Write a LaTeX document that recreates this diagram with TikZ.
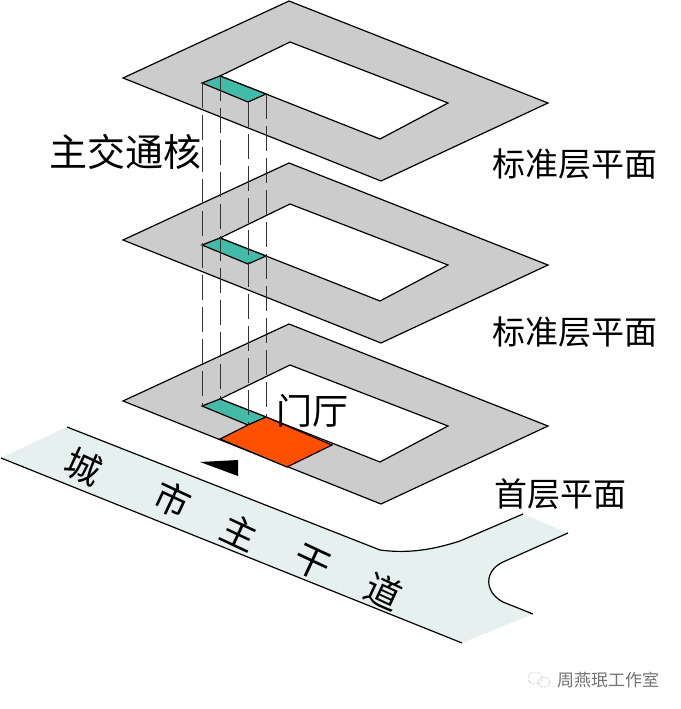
\documentclass[tikz,border=0pt]{standalone}
\usepackage{fontspec}
\usepackage{xcolor}
\usepackage{tikz}
\usetikzlibrary{positioning,calc}
\newfontfamily\cjk{Noto Sans CJK SC}
\definecolor{floorgray}{HTML}{CCCCCC}
\definecolor{coreteal}{HTML}{42BBA8}
\definecolor{lobbyred}{HTML}{FF5000}
\definecolor{roadpale}{HTML}{E6F0EE}

\begin{document}
\begin{tikzpicture}[x=1pt, y=-1pt,
    plate/.style={draw=black, line width=1.2pt, fill=floorgray, line join=miter},
    hole/.style={draw=black, line width=1.2pt, fill=white},
    core/.style={draw=black, line width=1.2pt, fill=coreteal},
    lobby/.style={draw=black, line width=1.2pt, fill=lobbyred},
    shaft/.style={draw=black!80, line width=0.8pt, dash pattern=on 25pt off 7pt},
    kerb/.style={draw=black, line width=1.2pt},
    label/.style={font=\cjk, inner sep=0pt, text=black},
    roadtext/.style={label, font=\cjk\fontsize{36}{36}\selectfont, rotate=-25}]

    \useasboundingbox (0,0) rectangle (680,709);

    % road
    \coordinate (ra) at (67,427);
    \coordinate (rb) at (523,514);
    \coordinate (rc) at (568,533);
    \coordinate (rd) at (533,614);
    \coordinate (re) at (462,643);
    \coordinate (rf) at (1,458);
    \fill[roadpale] (ra) -- (380,550) .. controls (410,554) and (435,549) .. (460,541) -- (rb) -- (rc)
        -- (503,562) .. controls (484,571) and (484,592) .. (503,602) -- (rd) -- (re) -- (rf) -- cycle;
    \draw[kerb] (ra) -- (380,550) .. controls (410,554) and (435,549) .. (460,541) -- (rb);
    \draw[kerb] (rc) -- (503,562) .. controls (484,571) and (484,592) .. (503,602) -- (rd);
    \draw[kerb] (re) -- (rf);

    % floor plates
    \foreach \name/\dy in {top/0, mid/162, low/323} {
        \draw[plate] (289,1+\dy) -- (548,103+\dy) -- (381,181+\dy) -- (123,78+\dy) -- cycle;
        \draw[hole] (290,42+\dy) -- (448,103+\dy) -- (380,139+\dy) -- (266,94+\dy) -- (220,76+\dy) -- cycle;
        \draw[core] (202,83+\dy) coordinate (\name a) -- (220,76+\dy) coordinate (\name b)
            -- (266,94+\dy) coordinate (\name c) -- (248,102+\dy) coordinate (\name d) -- cycle;
    }

    % lobby and entrance mark
    \draw[lobby] (lowc) -- (332,445) -- (287,467) -- (220,439) -- (lowd) -- cycle;
    \fill[black] (200,462) -- (238,460) -- (238,476) -- cycle;

    % shafts
    \draw[shaft] (topa) -- (lowa);
    \draw[shaft] (topb) -- (lowb);
    \draw[shaft] (topd) -- (lowd);
    \draw[shaft] (topc) -- (lowc);

    % labels
    \node[label, font=\cjk\fontsize{38}{38}\selectfont] (coretext) at (125,152) {主交通核};
    \node[label, font=\cjk\fontsize{33}{33}\selectfont] (std1) at (575,164) {标准层平面};
    \node[label, font=\cjk\fontsize{33}{33}\selectfont] (std2) at (575,332) {标准层平面};
    \node[label, font=\cjk\fontsize{33}{33}\selectfont] (first) at (560,494) {首层平面};
    \node[label, font=\cjk\fontsize{36}{36}\selectfont] (hall) at (312,411) {门厅};

    % road name
    \node[roadtext] (r1) at (84,467) {城};
    \node[roadtext] (r2) at (173,500) {市};
    \node[roadtext] (r3) at (240,532) {主};
    \node[roadtext] (r4) at (312,563) {干};
    \node[roadtext] (r5) at (384,591) {道};

    % watermark
    \node[label, font=\cjk\fontsize{17}{17}\selectfont, text=black!55] (mark) at (608,680) {周燕珉工作室};
    \draw[black!40, line width=0.5pt, densely dotted] (535,678) ellipse (7pt and 6pt);
    \draw[black!40, line width=0.5pt, densely dotted] (544,682) ellipse (6pt and 5pt);
\end{tikzpicture}
\end{document}
